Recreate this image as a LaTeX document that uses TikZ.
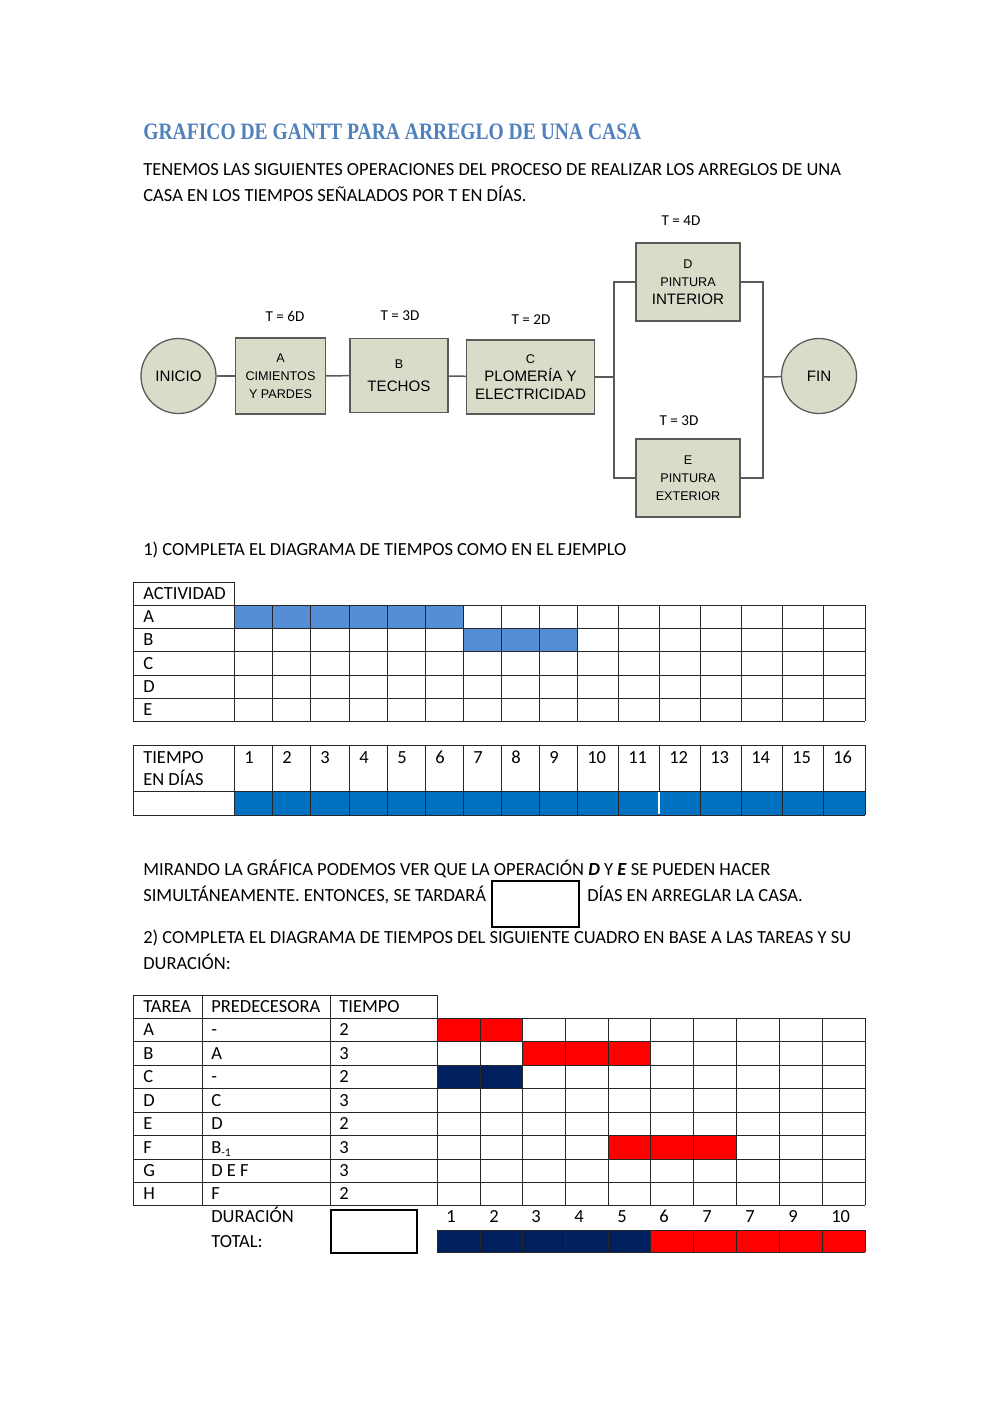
\documentclass[tikz,border=0pt]{standalone}
\usepackage{graphicx}
\usepackage{fontspec}
\setmainfont{Carlito}
\newfontfamily\arialf{Liberation Sans}
\newfontfamily\titlef{Liberation Serif}
\newlength\pxl
\setlength\pxl{0.595pt}
\definecolor{titleblue}{HTML}{4F81BD}
\definecolor{lblue}{HTML}{558ED5}
\definecolor{dblue}{HTML}{0070C0}
\definecolor{navyc}{HTML}{002060}
\definecolor{redc}{HTML}{FF0000}
\definecolor{boxfill}{HTML}{D9DCC9}
\definecolor{boxline}{HTML}{5A5A5A}
\begin{document}
\begin{tikzpicture}[x=0.595pt,y=-0.595pt,
 txt/.style={anchor=base west,inner sep=0pt,font=\fontsize{11}{13}\selectfont},
 tlabel/.style={anchor=center,inner sep=0pt,font=\fontsize{9}{10}\selectfont},
 procbox/.style={draw=boxline,fill=boxfill,line width=1.3\pxl,align=center,inner sep=0pt,font=\arialf\fontsize{7.5}{10.7}\selectfont},
 endcirc/.style={circle,draw=boxline,fill=boxfill,line width=1.3\pxl,minimum size=75\pxl,inner sep=0pt,font=\arialf\fontsize{9}{10}\selectfont},
 conn/.style={draw=boxline,line width=1.5\pxl},
 gridl/.style={draw=black!85,line width=1\pxl},
 ansbox/.style={draw=black,line width=1.2\pxl,inner sep=0pt}]

\fill[white] (0,0) rectangle (1000,1413);
\useasboundingbox (0,0) rectangle (1000,1413);

% ---------- title and intro ----------
\node[anchor=base west,inner sep=0pt,font=\titlef\bfseries\fontsize{14}{16}\selectfont,text=titleblue] (title) at (143,139)
  {\resizebox{498\pxl}{\height}{GRAFICO DE GANTT PARA ARREGLO DE UNA CASA}};
\node[txt] (intro1) at (143,175) {TENEMOS LAS SIGUIENTES OPERACIONES DEL PROCESO DE REALIZAR LOS ARREGLOS DE UNA};
\node[txt] (intro2) at (143,201) {CASA EN LOS TIEMPOS SEÑALADOS POR T EN DÍAS.};

% ---------- process diagram ----------
\node[endcirc] (inicio) at (178.5,376) {INICIO};
\node[procbox,minimum width=90\pxl,minimum height=76\pxl] (A) at (280.5,376)
  {A\\CIMIENTOS\\Y PARDES};
\node[procbox,minimum width=98\pxl,minimum height=74\pxl] (B) at (399,375.5)
  {B\\[3pt]{\fontsize{9}{10.7}\selectfont TECHOS}};
\node[procbox,minimum width=128\pxl,minimum height=74\pxl] (C) at (530.5,377)
  {C\\{\fontsize{9}{10.7}\selectfont PLOMERÍA Y}\\{\fontsize{9}{10.7}\selectfont ELECTRICIDAD}};
\node[procbox,minimum width=104\pxl,minimum height=78\pxl] (D) at (688,282)
  {D\\PINTURA\\{\fontsize{9}{10.7}\selectfont INTERIOR}};
\node[procbox,minimum width=104\pxl,minimum height=78\pxl] (E) at (688,478)
  {E\\PINTURA\\EXTERIOR};
\node[endcirc] (fin) at (819,376) {FIN};

\node[tlabel] (tA) at (285,316) {T = 6D};
\node[tlabel] (tB) at (400,316) {T = 3D};
\node[tlabel] (tC) at (531,320) {T = 2D};
\node[tlabel] (tD) at (681,221) {T = 4D};
\node[tlabel] (tE) at (679,421) {T = 3D};

\coordinate (j1) at (614,377);
\coordinate (j2) at (763,377);
\draw[conn] (inicio) -- (A);
\draw[conn] (A) -- (B);
\draw[conn] (B) -- (C);
\draw[conn] (C) -- (j1);
\draw[conn] (j1) |- (D);
\draw[conn] (j1) |- (E);
\draw[conn] (D) -| (j2);
\draw[conn] (E) -| (j2);
\draw[conn] (j2) -- (fin);

% ---------- question 1 ----------
\node[txt] (q1) at (143,555) {1) COMPLETA EL DIAGRAMA DE TIEMPOS COMO EN EL EJEMPLO};

% table 1
\fill[lblue] (234,605) rectangle (463,628);
\fill[lblue] (463,628) rectangle (577,651);
\foreach \y in {605,628,651,675,698,721} \draw[gridl] (133,\y) -- (865,\y);
\draw[gridl] (133,582) -- (234,582);
\draw[gridl] (133,582) -- (133,721);
\draw[gridl] (234,582) -- (234,721);
\foreach \x in {272,310,349,387,425,463,501,539,577,618,659,700,741,782,823,865}
  \draw[gridl] (\x,605) -- (\x,721);
\node[txt] (act) at (143,599.5) {ACTIVIDAD};
\foreach \r/\yy in {A/622.5,B/645.5,C/669,D/692.5,E/715.5}
  \node[txt] (row\r) at (143,\yy) {\r};

% table time
\fill[dblue] (234,791) rectangle (865,815);
\foreach \y in {745,791,815} \draw[gridl] (133,\y) -- (865,\y);
\foreach \x in {133,234,272,310,349,387,425,463,501,539,577,618,659,700,741,782,823,865}
  \draw[gridl] (\x,745) -- (\x,815);
\draw[white,line width=1.5\pxl] (659,792) -- (659,814);
\node[txt] (tiempo1) at (143,763) {TIEMPO};
\node[txt] (tiempo2) at (143,785) {EN DÍAS};
\foreach \n/\x in {1/234,2/272,3/310,4/349,5/387,6/425,7/463,8/501,9/539,10/577,11/618,12/659,13/700,14/741,15/782,16/823}
  \node[txt] (day\n) at (\x+10,763) {\n};

% ---------- middle text ----------
\node[txt] (m1) at (143,875) {MIRANDO LA GRÁFICA PODEMOS VER QUE LA OPERACIÓN \textbf{\textit{D}} Y \textbf{\textit{E}} SE PUEDEN HACER};
\node[txt] (m2) at (143,901) {SIMULTÁNEAMENTE. ENTONCES, SE TARDARÁ};
\node[ansbox,minimum width=87\pxl,minimum height=46\pxl] (ans1) at (535.5,904) {};
\node[txt] (m3) at (587,901) {DÍAS EN ARREGLAR LA CASA.};
\node[txt] (q2a) at (143,943) {2) COMPLETA EL DIAGRAMA DE TIEMPOS DEL SIGUIENTE CUADRO EN BASE A LAS TAREAS Y SU};
\node[txt] (q2b) at (143,969) {DURACIÓN:};

% ---------- table 2 ----------
\fill[redc] (437,1018) rectangle (522,1041);
\fill[redc] (522,1041) rectangle (650,1065);
\fill[navyc] (437,1065) rectangle (522,1088);
\fill[redc] (608,1135) rectangle (736,1159);
\foreach \y in {1018,1041,1065,1088,1112,1135,1159,1182,1205} \draw[gridl] (133,\y) -- (865,\y);
\draw[gridl] (133,995) -- (437,995);
\foreach \x in {133,202,330,437} \draw[gridl] (\x,995) -- (\x,1205);
\foreach \x in {480,522,565,608,650,693,736,779,822,865} \draw[gridl] (\x,1018) -- (\x,1205);

\node[txt] (h1) at (143,1012.5) {TAREA};
\node[txt] (h2) at (211,1012.5) {PREDECESORA};
\node[txt] (h3) at (339,1012.5) {TIEMPO};
\foreach \k/\t/\p/\d/\yy in {1/A/-/2/1035.5,2/B/A/3/1059,3/C/-/2/1082.5,4/D/C/3/1106,5/E/D/2/1129.5,6/F/{B\raisebox{-0.35ex}{\fontsize{7}{8}\selectfont -1}}/3/1153,7/G/D E F/3/1176.5,8/H/F/2/1199.5}{
  \node[txt] (ta\k) at (143,\yy) {\t};
  \node[txt] (pr\k) at (211,\yy) {\p};
  \node[txt] (ti\k) at (339,\yy) {\d};
}

\node[txt] (dur1) at (211,1222) {DURACIÓN};
\node[txt] (dur2) at (211,1247) {TOTAL:};
\node[ansbox,minimum width=86\pxl,minimum height=43\pxl] (ans2) at (374,1231.5) {};
\foreach \k/\n/\x in {1/1/437,2/2/480,3/3/522,4/4/565,5/5/608,6/6/650,7/7/693,8/7/736,9/9/779,10/10/822}
  \node[txt] (bn\k) at (\x+9,1222) {\n};
\fill[navyc] (437,1230) rectangle (650,1252);
\fill[redc] (650,1230) rectangle (865,1252);
\foreach \y in {1230,1252} \draw[gridl] (437,\y) -- (865,\y);
\foreach \x in {437,480,522,565,608,650,693,736,779,822,865} \draw[gridl] (\x,1230) -- (\x,1252);
\end{tikzpicture}
\end{document}
